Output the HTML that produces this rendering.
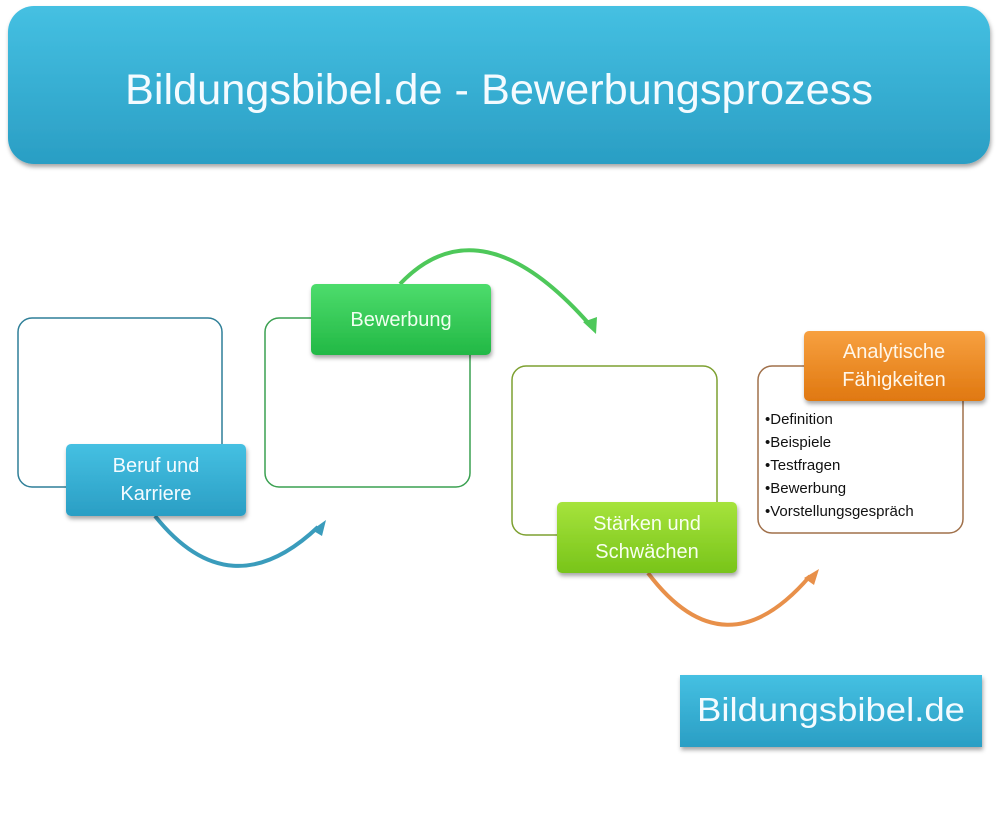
<!DOCTYPE html>
<html><head><meta charset="utf-8"><style>
html,body{margin:0;padding:0;background:#fff;}
svg{display:block;font-family:"Liberation Sans",sans-serif;}
</style></head><body>
<svg width="1000" height="838" viewBox="0 0 1000 838" xmlns="http://www.w3.org/2000/svg">
<defs>
<linearGradient id="gb" x1="0" y1="0" x2="0" y2="1"><stop offset="0" stop-color="#45c0e2"/><stop offset="1" stop-color="#2a9ec4"/></linearGradient>
<linearGradient id="gg" x1="0" y1="0" x2="0" y2="1"><stop offset="0" stop-color="#4ddc6c"/><stop offset="1" stop-color="#22b845"/></linearGradient>
<linearGradient id="gl" x1="0" y1="0" x2="0" y2="1"><stop offset="0" stop-color="#a6e33c"/><stop offset="1" stop-color="#78c41a"/></linearGradient>
<linearGradient id="go" x1="0" y1="0" x2="0" y2="1"><stop offset="0" stop-color="#f7a040"/><stop offset="1" stop-color="#e07810"/></linearGradient>
<filter id="sh" x="-10%" y="-10%" width="120%" height="130%"><feDropShadow dx="1" dy="3" stdDeviation="2" flood-color="#000" flood-opacity="0.35"/></filter>
</defs>
<rect x="8" y="6" width="982" height="158" rx="26" fill="url(#gb)" filter="url(#sh)"/>
<text x="499" y="104" font-size="43" fill="#f4fbff" text-anchor="middle" textLength="748" lengthAdjust="spacingAndGlyphs">Bildungsbibel.de - Bewerbungsprozess</text>

<rect x="18" y="318" width="204" height="169" rx="14" fill="none" stroke="#2f7f98" stroke-width="1.5"/>
<rect x="265" y="318" width="205" height="169" rx="14" fill="none" stroke="#3aa050" stroke-width="1.5"/>
<rect x="512" y="366" width="205" height="169" rx="14" fill="none" stroke="#7da030" stroke-width="1.5"/>
<rect x="758" y="366" width="205" height="167" rx="14" fill="none" stroke="#a0704a" stroke-width="1.5"/>

<path d="M155 516 Q230 610 318 527" fill="none" stroke="#3a9cbc" stroke-width="4"/>
<path d="M312 530 L326 520 L322 536 Z" fill="#3a9cbc"/>
<path d="M400 284 Q480 200 590 325" fill="none" stroke="#4ec85a" stroke-width="4"/>
<path d="M583 322 L596 334 L597 317 Z" fill="#4ec85a"/>
<path d="M648 573 Q725 675 810 576" fill="none" stroke="#e8904a" stroke-width="4"/>
<path d="M804 578 L819 569 L814 585 Z" fill="#e8904a"/>

<rect x="66" y="444" width="180" height="72" rx="5" fill="url(#gb)" filter="url(#sh)"/>
<text x="156" y="472" font-size="20" fill="#f4fbff" text-anchor="middle">Beruf und</text>
<text x="156" y="500" font-size="20" fill="#f4fbff" text-anchor="middle">Karriere</text>

<rect x="311" y="284" width="180" height="71" rx="5" fill="url(#gg)" filter="url(#sh)"/>
<text x="401" y="326" font-size="20" fill="#f0fff0" text-anchor="middle">Bewerbung</text>

<rect x="557" y="502" width="180" height="71" rx="5" fill="url(#gl)" filter="url(#sh)"/>
<text x="647" y="530" font-size="20" fill="#f8fff0" text-anchor="middle">Stärken und</text>
<text x="647" y="558" font-size="20" fill="#f8fff0" text-anchor="middle">Schwächen</text>

<rect x="804" y="331" width="181" height="70" rx="5" fill="url(#go)" filter="url(#sh)"/>
<text x="894" y="358" font-size="20" fill="#fff6e8" text-anchor="middle">Analytische</text>
<text x="894" y="386" font-size="20" fill="#fff6e8" text-anchor="middle">Fähigkeiten</text>

<g font-size="15" fill="#111">
<text x="765" y="424">•Definition</text>
<text x="765" y="447">•Beispiele</text>
<text x="765" y="470">•Testfragen</text>
<text x="765" y="493">•Bewerbung</text>
<text x="765" y="516">•Vorstellungsgespräch</text>
</g>

<rect x="680" y="675" width="302" height="72" fill="url(#gb)" filter="url(#sh)"/>
<text x="831" y="721" font-size="33" fill="#f4fbff" text-anchor="middle" textLength="268" lengthAdjust="spacingAndGlyphs">Bildungsbibel.de</text>
</svg>
</body></html>
